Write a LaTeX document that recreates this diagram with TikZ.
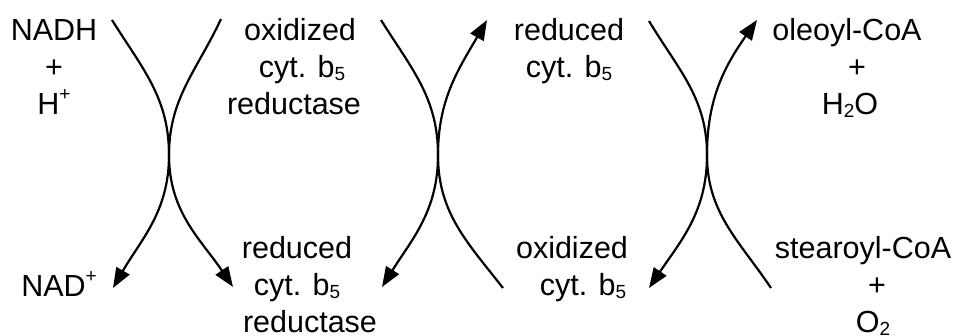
\documentclass[tikz,border=0pt]{standalone}
\usepackage{fontspec}
\setmainfont{Liberation Sans}
\usetikzlibrary{arrows.meta}
\newcommand\mysub[1]{\raisebox{-3pt}{\fontsize{19}{19}\selectfont #1}}
\newcommand\mysup[1]{\raisebox{14pt}{\fontsize{19}{19}\selectfont #1}}
\newcommand\shr[2]{\hspace*{#1pt}#2}
\newcommand\shl[2]{#2\hspace*{#1pt}}
\begin{document}
\begin{tikzpicture}[x=1pt,y=-1pt,
  lbl/.style={inner sep=0pt,outer sep=0pt,align=center,anchor=base,
    font=\fontsize{30.5}{37}\selectfont},
  curve/.style={line width=2.2pt},
  arr/.style={curve,-{Triangle[length=20pt,width=15pt]}}]
\useasboundingbox (0,0) rectangle (961,335);
% labels (anchor=base is the baseline of the last line)
\node[lbl] (nadh) at (54,114) {NADH\\+\\H\mysup{+}};
\node[lbl] (oxred) at (300,114) {oxidized\\\shr{4}{cyt. b\mysub{5}}\\\shl{12}{reductase}};
\node[lbl] (redb) at (569,77) {reduced\\cyt. b\mysub{5}};
\node[lbl] (oleo) at (847,114) {oleoyl-CoA\\\shr{20}{+}\\\shr{6}{H\mysub{2}O}};
\node[lbl] (nad) at (59,296) {NAD\mysup{+}};
\node[lbl] (redred) at (297,332) {reduced\\cyt. b\mysub{5}\\\shr{26}{reductase}};
\node[lbl] (oxb) at (572,295) {oxidized\\\shr{22}{cyt. b\mysub{5}}};
\node[lbl] (stea) at (863,332) {stearoyl-CoA\\\shr{28}{+}\\\shr{20}{O\mysub{2}}};
% curve coordinates
\coordinate (a1) at (112,20);  \coordinate (m1) at (169,155); \coordinate (b1) at (113,288);
\coordinate (c1) at (221,19);  \coordinate (d1) at (233,287);
\coordinate (a2) at (381,20);  \coordinate (m2) at (438,155); \coordinate (b2) at (382,287);
\coordinate (c2) at (487,20);  \coordinate (d2) at (503,288);
\coordinate (a3) at (649,21);  \coordinate (m3) at (707,155); \coordinate (b3) at (649,288);
\coordinate (c3) at (757,20);  \coordinate (d3) at (771,288);
% crossing 1
\draw[arr] (a1) to[out=-58,in=90] (m1) to[out=-90,in=60] (b1);
\draw[arr] (c1) to[out=-115,in=90] (m1) to[out=-90,in=124] (d1);
% crossing 2
\draw[arr] (a2) to[out=-58,in=90] (m2) to[out=-90,in=58] (b2);
\draw[arr] (d2) to[out=128,in=-90] (m2) to[out=90,in=-120] (c2);
% crossing 3
\draw[arr] (a3) to[out=-59,in=90] (m3) to[out=-90,in=56] (b3);
\draw[arr] (d3) to[out=124,in=-90] (m3) to[out=90,in=-125] (c3);
\end{tikzpicture}
\end{document}
